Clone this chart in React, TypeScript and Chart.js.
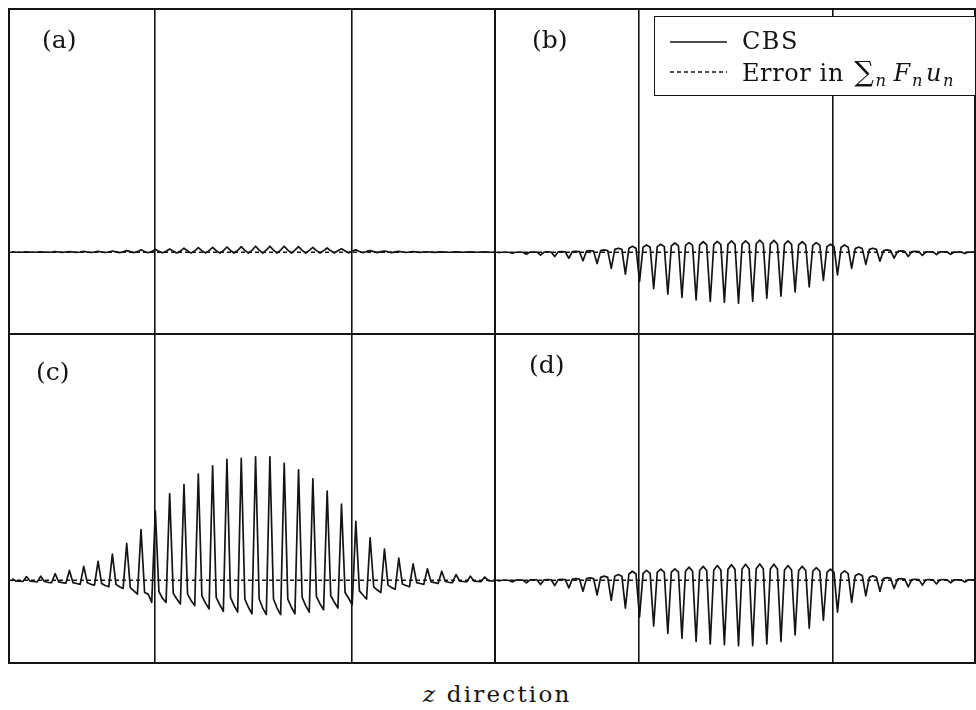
import React, { useEffect, useRef } from "react";
import { Chart, registerables } from "chart.js";

Chart.register(...registerables);

if (typeof document !== "undefined") {
  document.body.style.margin = "0";
}

// ---- axis description (z in units of the wave period) ----
const Z_STEP = 0.25;
const Z_MIN = -0.15;
const Z_MAX = 33.65;
const GRID_Z = [9.95, 23.7];
const Y_MIN = -1;
const Y_MAX = 3;

// ---- error series (dashed): essentially zero everywhere ----
const ERROR_Z = [-0.15, 33.65];
const ERROR_A = [0, 0];
const ERROR_B = [0, 0];
const ERROR_C = [0, 0];
const ERROR_D = [0, 0];

// ---- CBS series, sampled every quarter period (one row = one period) ----
const CBS_A = [
  0.005, 0.002, 0, 0.002,
  0.005, 0.002, 0, 0.002,
  0.005, 0.002, 0, 0.002,
  0.008, 0.003, -0.002, 0.003,
  0.008, 0.003, -0.002, 0.003,
  0.01, 0.003, -0.003, 0.003,
  0.01, 0.003, -0.003, 0.003,
  0.015, 0.005, -0.004, 0.005,
  0.02, 0.007, -0.005, 0.007,
  0.03, 0.01, -0.006, 0.01,
  0.035, 0.012, -0.007, 0.012,
  0.04, 0.014, -0.008, 0.014,
  0.05, 0.017, -0.008, 0.017,
  0.057, 0.02, -0.009, 0.02,
  0.06, 0.02, -0.01, 0.02,
  0.065, 0.022, -0.01, 0.022,
  0.07, 0.024, -0.01, 0.024,
  0.074, 0.026, -0.01, 0.026,
  0.074, 0.026, -0.01, 0.026,
  0.074, 0.026, -0.01, 0.026,
  0.07, 0.024, -0.01, 0.024,
  0.06, 0.02, -0.01, 0.02,
  0.053, 0.018, -0.009, 0.018,
  0.045, 0.015, -0.008, 0.015,
  0.03, 0.01, -0.006, 0.01,
  0.02, 0.007, -0.005, 0.007,
  0.015, 0.005, -0.004, 0.005,
  0.01, 0.003, -0.003, 0.003,
  0.008, 0.003, -0.002, 0.003,
  0.006, 0.002, -0.002, 0.002,
  0.005, 0.002, 0, 0.002,
  0.005, 0.002, 0, 0.002,
  0.004, 0.001, 0, 0.001,
  0.004, 0.001, 0, 0.001,
];

const CBS_B = [
  -0.005, 0, 0, 0,
  -0.012, 0, 0, 0,
  -0.025, 0.002, 0.003, 0.002,
  -0.037, 0.003, 0.005, 0.003,
  -0.053, 0.005, 0.008, 0.005,
  -0.074, 0.007, 0.01, 0.007,
  -0.106, 0.014, 0.02, 0.014,
  -0.14, 0.02, 0.03, 0.02,
  -0.2, 0.035, 0.05, 0.035,
  -0.27, 0.05, 0.074, 0.05,
  -0.36, 0.063, 0.09, 0.063,
  -0.45, 0.07, 0.1, 0.07,
  -0.52, 0.08, 0.115, 0.08,
  -0.56, 0.084, 0.12, 0.084,
  -0.59, 0.09, 0.13, 0.09,
  -0.61, 0.095, 0.135, 0.095,
  -0.62, 0.098, 0.14, 0.098,
  -0.63, 0.1, 0.14, 0.1,
  -0.61, 0.105, 0.15, 0.105,
  -0.57, 0.1, 0.147, 0.1,
  -0.545, 0.098, 0.14, 0.098,
  -0.49, 0.09, 0.13, 0.09,
  -0.43, 0.084, 0.12, 0.084,
  -0.35, 0.07, 0.1, 0.07,
  -0.28, 0.063, 0.09, 0.063,
  -0.2, 0.045, 0.065, 0.045,
  -0.15, 0.035, 0.05, 0.035,
  -0.11, 0.02, 0.03, 0.02,
  -0.074, 0.011, 0.016, 0.011,
  -0.053, 0.007, 0.01, 0.007,
  -0.04, 0.004, 0.005, 0.004,
  -0.03, 0.004, 0.005, 0.004,
  -0.025, 0.002, 0.003, 0.002,
  -0.016, 0.002, 0.003, 0.002,
];

const CBS_C = [
  0.02, -0.01, -0.01, -0.015,
  0.045, -0.01, -0.015, -0.02,
  0.05, -0.015, -0.025, -0.03,
  0.08, -0.02, -0.03, -0.037,
  0.12, -0.03, -0.04, -0.05,
  0.17, -0.03, -0.05, -0.06,
  0.23, -0.04, -0.065, -0.08,
  0.32, -0.05, -0.08, -0.1,
  0.45, -0.09, -0.13, -0.17,
  0.62, -0.15, -0.17, -0.27,
  0.85, -0.14, -0.22, -0.27,
  1.06, -0.16, -0.23, -0.29,
  1.17, -0.17, -0.25, -0.31,
  1.3, -0.19, -0.28, -0.35,
  1.4, -0.21, -0.3, -0.38,
  1.48, -0.21, -0.31, -0.39,
  1.49, -0.23, -0.33, -0.41,
  1.51, -0.23, -0.34, -0.42,
  1.51, -0.23, -0.34, -0.42,
  1.43, -0.23, -0.33, -0.41,
  1.35, -0.21, -0.31, -0.39,
  1.24, -0.2, -0.29, -0.36,
  1.09, -0.19, -0.27, -0.34,
  0.93, -0.15, -0.22, -0.3,
  0.72, -0.13, -0.18, -0.23,
  0.52, -0.08, -0.12, -0.15,
  0.38, -0.06, -0.09, -0.11,
  0.27, -0.045, -0.065, -0.08,
  0.2, -0.03, -0.04, -0.05,
  0.14, -0.02, -0.03, -0.04,
  0.11, -0.015, -0.025, -0.03,
  0.07, -0.01, -0.015, -0.02,
  0.05, -0.01, -0.013, -0.016,
  0.04, -0.005, -0.008, -0.01,
];

const CBS_D = [
  -0.01, 0, 0, 0,
  -0.02, 0.002, 0.003, 0.002,
  -0.033, 0.004, 0.005, 0.004,
  -0.053, 0.006, 0.008, 0.006,
  -0.065, 0.008, 0.012, 0.008,
  -0.094, 0.014, 0.02, 0.014,
  -0.135, 0.02, 0.03, 0.02,
  -0.18, 0.035, 0.05, 0.035,
  -0.245, 0.05, 0.07, 0.05,
  -0.34, 0.077, 0.11, 0.077,
  -0.45, 0.084, 0.12, 0.084,
  -0.56, 0.095, 0.135, 0.095,
  -0.65, 0.1, 0.14, 0.1,
  -0.71, 0.11, 0.16, 0.11,
  -0.75, 0.12, 0.17, 0.12,
  -0.78, 0.126, 0.18, 0.126,
  -0.79, 0.133, 0.19, 0.133,
  -0.8, 0.137, 0.196, 0.137,
  -0.8, 0.14, 0.2, 0.14,
  -0.78, 0.137, 0.196, 0.137,
  -0.75, 0.126, 0.18, 0.126,
  -0.67, 0.12, 0.17, 0.12,
  -0.585, 0.11, 0.155, 0.11,
  -0.49, 0.095, 0.135, 0.095,
  -0.39, 0.08, 0.115, 0.08,
  -0.27, 0.056, 0.08, 0.056,
  -0.19, 0.037, 0.053, 0.037,
  -0.135, 0.023, 0.033, 0.023,
  -0.1, 0.014, 0.02, 0.014,
  -0.08, 0.008, 0.012, 0.008,
  -0.06, 0.006, 0.008, 0.006,
  -0.045, 0.006, 0.008, 0.006,
  -0.033, 0.004, 0.005, 0.004,
  -0.02, 0.004, 0.005, 0.004,
];

const PANEL_LABELS = ["(a)", "(b)", "(c)", "(d)"];
const SERIES_LABELS = ["CBS", "Error in"];
const X_TITLE = "direction";

const INK = "#141414";
const FONT = "'DejaVu Serif', 'Liberation Serif', serif";

type PanelProps = {
  left: number;
  top: number;
  width: number;
  height: number;
  cbs: number[];
  err: number[];
};

function Panel({ left, top, width, height, cbs, err }: PanelProps) {
  const ref = useRef<HTMLCanvasElement | null>(null);
  const border = 2;
  const w = width - 2 * border;
  const h = height - 2 * border;

  useEffect(() => {
    if (!ref.current) return;
    const chart = new Chart(ref.current, {
      type: "line",
      data: {
        datasets: [
          {
            label: SERIES_LABELS[1],
            data: ERROR_Z.map((z, i) => ({ x: z, y: err[i] })),
            borderColor: INK,
            borderWidth: 1.3,
            borderDash: [4, 3],
            pointRadius: 0,
            fill: false,
            tension: 0,
          },
          {
            label: SERIES_LABELS[0],
            data: cbs.map((y, i) => ({ x: i * Z_STEP, y })),
            borderColor: INK,
            borderWidth: 1.7,
            borderJoinStyle: "round",
            pointRadius: 0,
            fill: false,
            tension: 0,
          },
        ],
      },
      options: {
        animation: false,
        responsive: false,
        events: [],
        layout: { padding: 0 },
        plugins: {
          legend: { display: false },
          tooltip: { enabled: false },
          title: { display: false },
        },
        scales: {
          x: {
            type: "linear",
            min: Z_MIN,
            max: Z_MAX,
            afterBuildTicks: (scale: any) => {
              scale.ticks = GRID_Z.map((v) => ({ value: v }));
            },
            ticks: { display: false },
            grid: { drawTicks: false, color: INK, lineWidth: 1.6 },
            border: { display: false },
          },
          y: {
            type: "linear",
            min: Y_MIN,
            max: Y_MAX,
            display: false,
          },
        },
      },
    } as any);
    return () => chart.destroy();
  }, []);

  return (
    <div
      style={{
        position: "absolute",
        left,
        top,
        width,
        height,
        border: `${border}px solid ${INK}`,
        boxSizing: "border-box",
      }}
    >
      <canvas ref={ref} width={w} height={h} style={{ display: "block", width: w, height: h }} />
    </div>
  );
}

// text helper: x and base are page coordinates of the left edge and baseline
function Txt({
  x,
  base,
  size = 24,
  spacing = 0,
  children,
}: {
  x: number;
  base: number;
  size?: number;
  spacing?: number;
  children: React.ReactNode;
}) {
  return (
    <div
      style={{
        position: "absolute",
        left: x,
        top: base - 0.846 * size,
        fontSize: size,
        lineHeight: `${size}px`,
        fontFamily: FONT,
        whiteSpace: "nowrap",
        letterSpacing: spacing,
        color: INK,
      }}
    >
      {children}
    </div>
  );
}

const sub: React.CSSProperties = { fontSize: "0.68em", fontStyle: "italic", verticalAlign: "-0.3em" };

export default function App() {
  useEffect(() => {
    document.body.style.margin = "0";
  }, []);
  return (
    <div style={{ position: "relative", width: 976, height: 710, background: "#fff", overflow: "hidden" }}>
      <Panel left={8} top={8} width={488} height={327} cbs={CBS_A} err={ERROR_A} />
      <Panel left={494} top={8} width={482} height={327} cbs={CBS_B} err={ERROR_B} />
      <Panel left={8} top={333} width={488} height={331} cbs={CBS_C} err={ERROR_C} />
      <Panel left={494} top={333} width={482} height={331} cbs={CBS_D} err={ERROR_D} />

      <Txt x={42} base={48} size={25}>{PANEL_LABELS[0]}</Txt>
      <Txt x={532} base={48} size={25}>{PANEL_LABELS[1]}</Txt>
      <Txt x={36} base={380} size={25}>{PANEL_LABELS[2]}</Txt>
      <Txt x={529} base={373} size={25}>{PANEL_LABELS[3]}</Txt>

      {/* legend */}
      <div
        style={{
          position: "absolute",
          left: 654,
          top: 16,
          width: 976 - 654,
          height: 96 - 16,
          border: `1.5px solid ${INK}`,
          boxSizing: "border-box",
          background: "#fff",
        }}
      />
      <svg style={{ position: "absolute", left: 668, top: 30 }} width={62} height={50}>
        <line x1={2} y1={12} x2={59} y2={12} stroke={INK} strokeWidth={1.4} />
        <line x1={2} y1={42} x2={59} y2={42} stroke={INK} strokeWidth={1.3} strokeDasharray="4 3" />
      </svg>
      <Txt x={742} base={49} spacing={1.5}>{SERIES_LABELS[0]}</Txt>
      <Txt x={742} base={80} spacing={0.6}>
        {SERIES_LABELS[1]}{" "}
        <span style={{ fontSize: "1.15em", marginLeft: 2 }}>∑</span>
        <span style={{ ...sub, marginLeft: 1 }}>n</span>
        <span style={{ marginLeft: 7 }}>
          <i>F</i>
        </span>
        <span style={{ ...sub, marginLeft: 1 }}>n</span>
        <span style={{ marginLeft: 3 }}>
          <i>u</i>
        </span>
        <span style={{ ...sub, marginLeft: 1 }}>n</span>
      </Txt>

      <Txt x={423} base={702} size={23} spacing={2.2}>
        <i>z</i> {X_TITLE}
      </Txt>
    </div>
  );
}
